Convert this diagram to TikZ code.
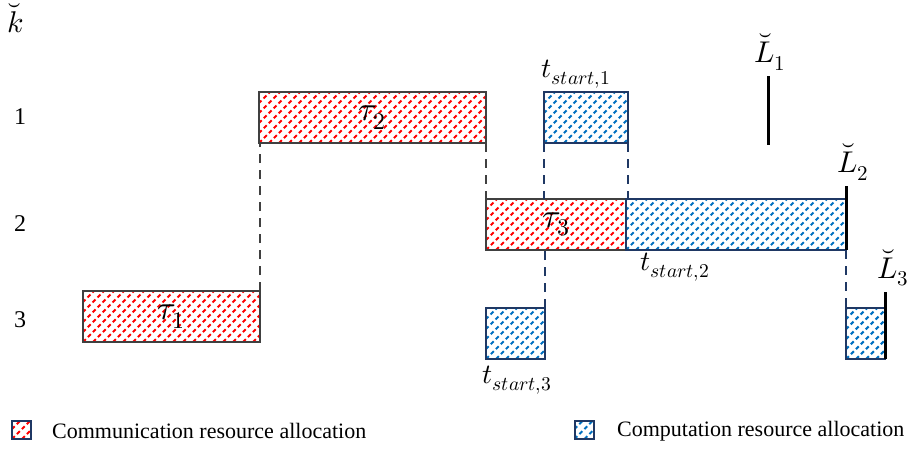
\documentclass[tikz,border=0pt]{standalone}
\usepackage{fontspec}
\usepackage{unicode-math}
\setmainfont{Liberation Serif}
\setmathfont{Latin Modern Math}
\definecolor{hatchred}{RGB}{255,0,0}
\definecolor{hatchblue}{RGB}{0,112,192}
\definecolor{boxgray}{RGB}{64,64,64}
\definecolor{navy}{RGB}{31,56,100}
\tikzset{
  hatch/.style={path picture={
    \foreach \s in {-80,-70,...,240}
      \draw[#1, line width=2.1pt, dash pattern=on 4pt off 3pt]
        ([xshift=\s pt]path picture bounding box.south west) -- ++(80pt,80pt);
  }},
  commbox/.style={draw=boxgray, line width=2pt, hatch=hatchred, inner sep=0pt, outer sep=0pt, minimum height=51pt, font=\fontsize{34}{38}\selectfont},
  compbox/.style={draw=navy, line width=2pt, hatch=hatchblue, inner sep=0pt, outer sep=0pt, minimum height=51pt},
  legbox/.style={draw=navy, line width=2pt, inner sep=0pt, outer sep=0pt, minimum width=19pt, minimum height=18pt},
  graydash/.style={draw=boxgray, line width=2pt, dash pattern=on 9pt off 7pt},
  navydash/.style={draw=navy, line width=2pt, dash pattern=on 9pt off 7pt},
  deadline/.style={draw=black, line width=3pt},
  mathlbl/.style={font=\fontsize{30}{34}\selectfont, inner sep=0pt},
  tlbl/.style={font=\fontsize{28}{32}\selectfont, inner sep=0pt},
  rowlbl/.style={font=\fontsize{24}{28}\selectfont, inner sep=0pt},
  klbl/.style={font=\fontsize{30}{34}\selectfont, inner sep=0pt},
  legtxt/.style={font=\fontsize{22}{26}\selectfont, anchor=west, inner sep=0pt}
}
\begin{document}
\begin{tikzpicture}[x=1pt, y=-1pt]
\useasboundingbox (0,0) rectangle (915,452);
% row labels
\node[klbl] (kh) at (16,18) {$\breve{k}$};
\node[rowlbl] (r1) at (20,117) {1};
\node[rowlbl] (r2) at (20,224) {2};
\node[rowlbl] (r3) at (20,320) {3};
% communication boxes
\node[commbox, minimum width=177pt] (t1) at (171.5,316.5) {$\tau_1$};
\node[commbox, minimum width=227pt] (t2) at (372.5,117.5) {$\tau_2$};
\node[commbox, minimum width=140pt] (t3) at (556,224.5) {$\tau_3$};
% computation boxes
\node[compbox, minimum width=84pt] (b1) at (586,117.5) {};
\node[compbox, minimum width=220pt] (b2) at (736,224.5) {};
\node[compbox, minimum width=59pt] (b3a) at (515.5,333.5) {};
\node[compbox, minimum width=39pt] (b3b) at (865.5,333.5) {};
% dashed connectors
\draw[graydash] (t1.north east) -- (t1.north east |- t2.south);
\draw[graydash] (t2.south east) -- (t3.north west);
\draw[navydash] (b1.south west) -- (b1.south west |- t3.north);
\draw[navydash] (b3a.north east) -- (b3a.north east |- t3.south);
\draw[navydash] (b1.south east) -- (b1.south east |- b2.north);
\draw[navydash] (b2.south east) -- (b3b.north west);
% deadlines
\coordinate (L1top) at (768,76);
\coordinate (L1bot) at (768,145);
\coordinate (L2top) at (846,186);
\coordinate (L3top) at (885,292);
\draw[deadline] (L1top) -- (L1bot);
\draw[deadline] (L2top) -- (b2.south east);
\draw[deadline] (L3top) -- (b3b.south east);
\node[mathlbl] (l1) at (770,52) {$\breve{L}_1$};
\node[mathlbl] (l2) at (853,162) {$\breve{L}_2$};
\node[mathlbl] (l3) at (893,268) {$\breve{L}_3$};
% start labels
\node[tlbl] (ts1) at (576,74) {$t_{start,1}$};
\node[tlbl] (ts2) at (675,267) {$t_{start,2}$};
\node[tlbl] (ts3) at (517,380) {$t_{start,3}$};
% legend
\node[legbox, hatch=hatchred] (lg1) at (21.5,430) {};
\node[legtxt] (lt1) at (52,431) {Communication resource allocation};
\node[legbox, hatch=hatchblue] (lg2) at (584,430) {};
\node[legtxt] (lt2) at (617,431) {Computation resource allocation};
\end{tikzpicture}
\end{document}
